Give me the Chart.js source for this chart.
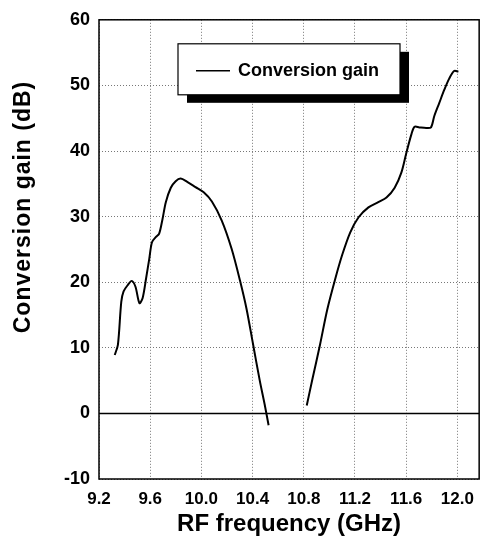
<!DOCTYPE html>
<html><head><meta charset="utf-8">
<style>html,body{margin:0;padding:0;background:#fff}#wrap{width:484px;height:540px;position:relative}</style>
<script src="https://cdn.jsdelivr.net/npm/chart.js@4/dist/chart.umd.min.js"></script>
</head><body><div id="wrap"><canvas id="c" width="484" height="540"></canvas></div>
<script>
// Lower band (GHz) and conversion gain (dB)
const freqLow = [9.323, 9.348, 9.374, 9.392, 9.426, 9.456, 9.485, 9.516, 9.541, 9.568, 9.593, 9.614, 9.645, 9.670, 9.696, 9.722, 9.761, 9.799, 9.838, 9.889, 9.954, 10.018, 10.082, 10.159, 10.236, 10.301, 10.352, 10.404, 10.456, 10.494, 10.525];
const gainLow = [8.9, 10.5, 17.0, 18.6, 19.6, 20.2, 19.3, 16.8, 17.6, 20.6, 23.6, 26.1, 26.9, 27.4, 29.6, 32.2, 34.4, 35.4, 35.8, 35.3, 34.5, 33.7, 32.3, 29.4, 25.1, 20.3, 16.0, 10.5, 5.0, 1.4, -1.8];
// Upper band
const freqHigh = [10.823, 10.867, 10.927, 10.983, 11.047, 11.099, 11.163, 11.228, 11.305, 11.382, 11.446, 11.510, 11.562, 11.601, 11.640, 11.665, 11.703, 11.756, 11.794, 11.819, 11.858, 11.897, 11.935, 11.974, 12.008];
const gainHigh = [1.2, 5.2, 10.5, 15.8, 20.6, 24.1, 27.6, 29.9, 31.4, 32.2, 32.9, 34.4, 36.7, 39.7, 42.5, 43.7, 43.6, 43.5, 43.6, 45.3, 47.3, 49.3, 51.0, 52.2, 52.1];
const xTicks = [9.2, 9.6, 10.0, 10.4, 10.8, 11.2, 11.6, 12.0];
const yTicks = [-10, 0, 10, 20, 30, 40, 50, 60];
const seriesLabel = 'Conversion gain';
const xTitle = 'RF frequency (GHz)';
const yTitle = 'Conversion gain (dB)';

const FONT = '"Liberation Sans", Arial, Helvetica, sans-serif';
const toPts = (xs, ys) => xs.map((x, i) => ({x, y: ys[i]}));

const framePlugin = {
  id: 'frame',
  beforeDatasetsDraw(chart) {
    const {ctx, chartArea: a, scales: {y}} = chart;
    ctx.save();
    ctx.strokeStyle = '#000';
    ctx.lineWidth = 1.5;
    ctx.setLineDash([]);
    ctx.strokeRect(a.left, a.top, a.right - a.left, a.bottom - a.top);
    const y0 = y.getPixelForValue(0);
    ctx.beginPath();
    ctx.moveTo(a.left, y0);
    ctx.lineTo(a.right, y0);
    ctx.stroke();
    ctx.restore();
  }
};

const legendPlugin = {
  id: 'boxLegend',
  afterDraw(chart) {
    const {ctx, chartArea: a} = chart;
    const ds = chart.data.datasets[0];
    const bx = a.left + 79, by = a.top + 24, bw = 222, bh = 51;
    ctx.save();
    ctx.fillStyle = '#000';
    ctx.fillRect(bx + 9, by + 8, bw, bh);
    ctx.fillStyle = '#fff';
    ctx.fillRect(bx, by, bw, bh);
    ctx.strokeStyle = '#000';
    ctx.lineWidth = 1.2;
    ctx.strokeRect(bx, by, bw, bh);
    ctx.strokeStyle = ds.borderColor;
    ctx.lineWidth = 1.5;
    ctx.beginPath();
    ctx.moveTo(bx + 18, by + 27);
    ctx.lineTo(bx + 52, by + 27);
    ctx.stroke();
    ctx.fillStyle = '#000';
    ctx.font = 'bold 18px ' + FONT;
    ctx.textBaseline = 'middle';
    ctx.textAlign = 'left';
    ctx.fillText(ds.label, bx + 60, by + 27);
    ctx.restore();
  }
};

const yTitlePlugin = {
  id: 'yTitle',
  afterDraw(chart) {
    const {ctx} = chart;
    ctx.save();
    ctx.translate(24, 207);
    ctx.rotate(-Math.PI / 2);
    ctx.fillStyle = '#000';
    ctx.font = 'bold 23px ' + FONT;
    try { ctx.letterSpacing = '1px'; } catch (e) {}
    ctx.textAlign = 'center';
    ctx.textBaseline = 'middle';
    ctx.fillText(yTitle, 0, 0);
    ctx.restore();
  }
};

new Chart(document.getElementById('c'), {
  type: 'line',
  data: {
    datasets: [
      {label: seriesLabel, data: toPts(freqLow, gainLow), borderColor: '#000', borderWidth: 2, pointRadius: 0, tension: 0.3, fill: false},
      {label: seriesLabel + ' (upper band)', data: toPts(freqHigh, gainHigh), borderColor: '#000', borderWidth: 2, pointRadius: 0, tension: 0.3, fill: false}
    ]
  },
  options: {
    responsive: false,
    animation: false,
    devicePixelRatio: 1,
    layout: {padding: {top: 16, right: 1, left: 0, bottom: 0}},
    plugins: {legend: {display: false}, tooltip: {enabled: false}},
    scales: {
      x: {
        type: 'linear', min: 9.2, max: 12.17,
        afterBuildTicks: s => { s.ticks = xTicks.map(v => ({value: v})); },
        afterFit: s => { s.height = 61; },
        grid: {color: '#777', lineWidth: 1, drawTicks: false},
        border: {display: false, dash: [1, 2]},
        ticks: {color: '#000', padding: 10, maxRotation: 0, font: {family: FONT, size: 17, weight: 'bold'}, callback: v => v.toFixed(1)},
        title: {display: true, text: xTitle, color: '#000', padding: {top: 0, bottom: 1}, font: {family: FONT, size: 24, weight: 'bold'}}
      },
      y: {
        type: 'linear', min: -10, max: 60,
        afterBuildTicks: s => { s.ticks = yTicks.map(v => ({value: v})); },
        afterFit: s => { s.width = 99; },
        grid: {color: '#777', lineWidth: 1, drawTicks: false},
        border: {display: false, dash: [1, 2]},
        ticks: {color: '#000', padding: 9, font: {family: FONT, size: 18, weight: 'bold'}, callback: v => String(v)}
      }
    }
  },
  plugins: [framePlugin, legendPlugin, yTitlePlugin]
});
</script></body></html>
